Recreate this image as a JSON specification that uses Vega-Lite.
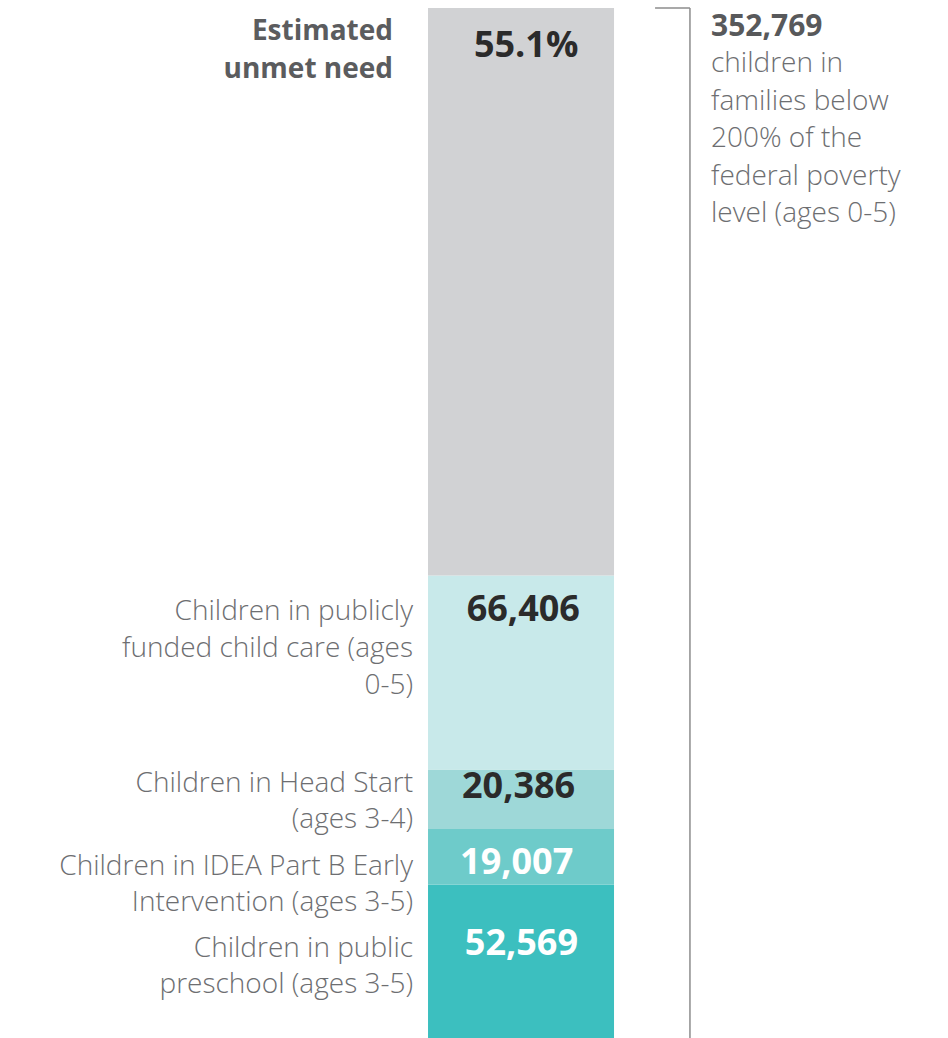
{
  "$schema": "https://vega.github.io/schema/vega-lite/v6.json",
  "width": 948,
  "height": 1030,
  "autosize": "none",
  "padding": {"top": 8, "left": 0, "right": 0, "bottom": 0},
  "background": "white",
  "config": {"view": {"stroke": null}, "axis": {"disable": true}},
  "data": {"values": [
    {"category": "Children in public preschool (ages 3-5)", "label": ["Children in public", "preschool (ages 3-5)"], "value": 52569, "valueLabel": "52,569", "order": 1},
    {"category": "Children in IDEA Part B Early Intervention (ages 3-5)", "label": ["Children in IDEA Part B Early", "Intervention (ages 3-5)"], "value": 19007, "valueLabel": "19,007", "order": 2},
    {"category": "Children in Head Start (ages 3-4)", "label": ["Children in Head Start", "(ages 3-4)"], "value": 20386, "valueLabel": "20,386", "order": 3},
    {"category": "Children in publicly funded child care (ages 0-5)", "label": ["Children in publicly", "funded child care (ages", "0-5)"], "value": 66406, "valueLabel": "66,406", "order": 4},
    {"category": "Estimated unmet need", "label": ["Estimated", "unmet need"], "value": 194401, "valueLabel": "55.1%", "order": 5}
  ]},
  "transform": [
    {"stack": "value", "groupby": [], "sort": [{"field": "order", "order": "ascending"}], "as": ["y0", "y1"]}
  ],
  "layer": [
    {
      "mark": {"type": "bar"},
      "encoding": {
        "x": {"datum": 45.15, "type": "quantitative", "scale": {"domain": [0, 100], "nice": false, "zero": false}, "axis": null},
        "x2": {"datum": 64.77},
        "y": {"field": "y0", "type": "quantitative", "scale": {"domain": [0, 352769], "nice": false}, "axis": null},
        "y2": {"field": "y1"},
        "color": {
          "field": "category", "type": "nominal", "legend": null,
          "scale": {
            "domain": ["Estimated unmet need", "Children in publicly funded child care (ages 0-5)", "Children in Head Start (ages 3-4)", "Children in IDEA Part B Early Intervention (ages 3-5)", "Children in public preschool (ages 3-5)"],
            "range": ["#d1d2d4", "#c8e9ea", "#9ed8d8", "#6ecbca", "#3cbfbf"]
          }
        }
      }
    },
    {
      "transform": [{"filter": "datum.order == 5"}],
      "mark": {"type": "text", "align": "center", "baseline": "alphabetic", "dy": 49, "font": "Open Sans", "fontSize": 36, "fontWeight": "bold", "color": "#2b2b2b"},
      "encoding": {"x": {"datum": 55.5, "type": "quantitative"}, "y": {"field": "y1", "type": "quantitative"}, "text": {"field": "valueLabel", "type": "nominal"}}
    },
    {
      "transform": [{"filter": "datum.order == 4"}],
      "mark": {"type": "text", "align": "center", "baseline": "alphabetic", "dy": 45, "font": "Open Sans", "fontSize": 36, "fontWeight": "bold", "color": "#2b2b2b"},
      "encoding": {"x": {"datum": 55.2, "type": "quantitative"}, "y": {"field": "y1", "type": "quantitative"}, "text": {"field": "valueLabel", "type": "nominal"}}
    },
    {
      "transform": [{"filter": "datum.order == 3"}],
      "mark": {"type": "text", "align": "center", "baseline": "alphabetic", "dy": 29, "font": "Open Sans", "fontSize": 36, "fontWeight": "bold", "color": "#2b2b2b"},
      "encoding": {"x": {"datum": 54.7, "type": "quantitative"}, "y": {"field": "y1", "type": "quantitative"}, "text": {"field": "valueLabel", "type": "nominal"}}
    },
    {
      "transform": [{"filter": "datum.order == 2"}],
      "mark": {"type": "text", "align": "center", "baseline": "alphabetic", "dy": 45, "font": "Open Sans", "fontSize": 36, "fontWeight": "bold", "color": "#ffffff"},
      "encoding": {"x": {"datum": 54.5, "type": "quantitative"}, "y": {"field": "y1", "type": "quantitative"}, "text": {"field": "valueLabel", "type": "nominal"}}
    },
    {
      "transform": [{"filter": "datum.order == 1"}],
      "mark": {"type": "text", "align": "center", "baseline": "alphabetic", "dy": 70, "font": "Open Sans", "fontSize": 36, "fontWeight": "bold", "color": "#ffffff"},
      "encoding": {"x": {"datum": 55.0, "type": "quantitative"}, "y": {"field": "y1", "type": "quantitative"}, "text": {"field": "valueLabel", "type": "nominal"}}
    },
    {
      "transform": [{"filter": "datum.order == 5"}],
      "mark": {"type": "text", "align": "right", "baseline": "alphabetic", "dy": 32, "font": "Open Sans", "fontSize": 28, "fontWeight": "bold", "lineHeight": 38, "color": "#5b5c5e"},
      "encoding": {"x": {"datum": 41.46, "type": "quantitative"}, "y": {"field": "y1", "type": "quantitative"}, "text": {"field": "label", "type": "nominal"}}
    },
    {
      "transform": [{"filter": "datum.order == 4"}],
      "mark": {"type": "text", "align": "right", "baseline": "alphabetic", "dy": 44, "font": "Open Sans", "fontSize": 28, "fontWeight": 300, "lineHeight": 37, "color": "#6d6e71"},
      "encoding": {"x": {"datum": 43.57, "type": "quantitative"}, "y": {"field": "y1", "type": "quantitative"}, "text": {"field": "label", "type": "nominal"}}
    },
    {
      "transform": [{"filter": "datum.order == 3"}],
      "mark": {"type": "text", "align": "right", "baseline": "alphabetic", "dy": 23, "font": "Open Sans", "fontSize": 28, "fontWeight": 300, "lineHeight": 36, "color": "#6d6e71"},
      "encoding": {"x": {"datum": 43.57, "type": "quantitative"}, "y": {"field": "y1", "type": "quantitative"}, "text": {"field": "label", "type": "nominal"}}
    },
    {
      "transform": [{"filter": "datum.order == 2"}],
      "mark": {"type": "text", "align": "right", "baseline": "alphabetic", "dy": 46, "font": "Open Sans", "fontSize": 28, "fontWeight": 300, "lineHeight": 36, "color": "#6d6e71"},
      "encoding": {"x": {"datum": 43.57, "type": "quantitative"}, "y": {"field": "y1", "type": "quantitative"}, "text": {"field": "label", "type": "nominal"}}
    },
    {
      "transform": [{"filter": "datum.order == 1"}],
      "mark": {"type": "text", "align": "right", "baseline": "alphabetic", "dy": 72, "font": "Open Sans", "fontSize": 28, "fontWeight": 300, "lineHeight": 36, "color": "#6d6e71"},
      "encoding": {"x": {"datum": 43.57, "type": "quantitative"}, "y": {"field": "y1", "type": "quantitative"}, "text": {"field": "label", "type": "nominal"}}
    },
    {
      "mark": {"type": "rule", "color": "#8c8c8c", "strokeWidth": 1.5},
      "encoding": {
        "x": {"datum": 72.78, "type": "quantitative"},
        "y": {"aggregate": "sum", "field": "value", "type": "quantitative"},
        "y2": {"datum": 0}
      }
    },
    {
      "mark": {"type": "rule", "color": "#8c8c8c", "strokeWidth": 1.5},
      "encoding": {
        "x": {"datum": 69.1, "type": "quantitative"},
        "x2": {"datum": 72.78},
        "y": {"aggregate": "sum", "field": "value", "type": "quantitative"}
      }
    },
    {
      "mark": {"type": "text", "align": "left", "baseline": "alphabetic", "dy": 28, "font": "Open Sans", "fontSize": 30, "fontWeight": "bold", "color": "#58595b"},
      "encoding": {
        "x": {"datum": 75.0, "type": "quantitative"},
        "y": {"aggregate": "sum", "field": "value", "type": "quantitative"},
        "text": {"aggregate": "sum", "field": "value", "type": "quantitative", "format": ","}
      }
    },
    {
      "mark": {"type": "text", "align": "left", "baseline": "alphabetic", "dy": 64, "font": "Open Sans", "fontSize": 28, "fontWeight": 300, "lineHeight": 37.5, "color": "#6d6e71"},
      "encoding": {
        "x": {"datum": 75.0, "type": "quantitative"},
        "y": {"aggregate": "sum", "field": "value", "type": "quantitative"},
        "text": {"value": ["children in", "families below", "200% of the", "federal poverty", "level (ages 0-5)"]}
      }
    }
  ]
}
